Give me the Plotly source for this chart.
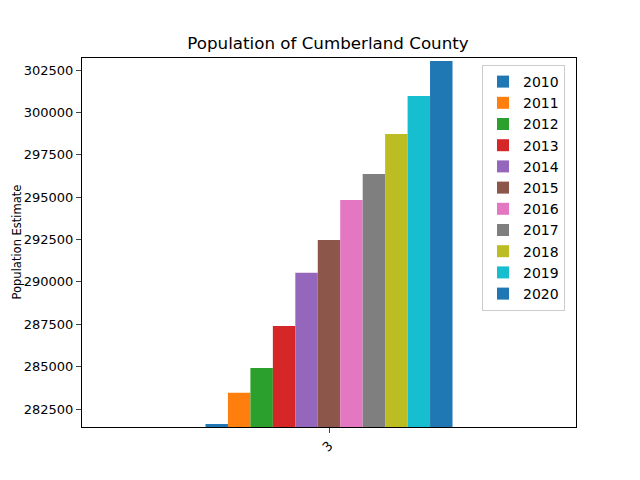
import plotly.graph_objects as go

# Population estimates
years = ["2010", "2011", "2012", "2013", "2014", "2015",
         "2016", "2017", "2018", "2019", "2020"]
population = [281615, 283462, 284919, 287397, 290541, 292471,
              294830, 296364, 298724, 300966, 303031]
category = ["3"]

colors = ["#1f77b4", "#ff7f0e", "#2ca02c", "#d62728", "#9467bd", "#8c564b",
          "#e377c2", "#7f7f7f", "#bcbd22", "#17becf", "#1f77b4"]

fig = go.Figure()
for i, (yr, val) in enumerate(zip(years, population)):
    fig.add_trace(go.Bar(x=[0], y=[val], name=yr,
                         marker=dict(color=colors[i], line=dict(width=0))))

# page body adds an 8px offset, so margins are shifted by 8
fig.update_layout(
    width=640, height=480,
    barmode="group", bargap=0.5, bargroupgap=0,
    plot_bgcolor="white", paper_bgcolor="white",
    font=dict(family="DejaVu Sans", size=14, color="black"),
    margin=dict(l=74, r=72, t=50, b=61, autoexpand=False),
    title=dict(text="Population of Cumberland County", x=(328 - 8) / 640,
               xanchor="center", y=1 - 35 / 480, yanchor="middle",
               font=dict(size=16.7)),
    legend=dict(x=(474 - 74) / 494, y=1 - (65 - 58) / 369, xanchor="left",
                yanchor="top", bordercolor="#cccccc", borderwidth=1,
                bgcolor="white", font=dict(size=14), traceorder="normal"),
)
# y axis title as annotation so it sits at the far left edge
fig.add_annotation(text="Population Estimate", textangle=-90,
                   xref="paper", yref="paper", x=-74 / 494, y=0.5,
                   xanchor="left", yanchor="middle", showarrow=False,
                   borderpad=0, font=dict(size=11.5))
fig.update_xaxes(range=[-0.5, 0.5], tickvals=[0], ticktext=category,
                 tickangle=-45, tickfont=dict(size=13), automargin=False,
                 showline=True, linecolor="black", linewidth=1,
                 mirror=True, ticks="outside", ticklen=5, showgrid=False,
                 zeroline=False)
fig.update_yaxes(range=[281438, 303208], dtick=2500, tick0=0, tickformat="d",
                 tickfont=dict(size=13), automargin=False,
                 showline=True, linecolor="black", linewidth=1, mirror=True,
                 ticks="outside", ticklen=5, showgrid=False, zeroline=False)

fig.write_html("out.html")
